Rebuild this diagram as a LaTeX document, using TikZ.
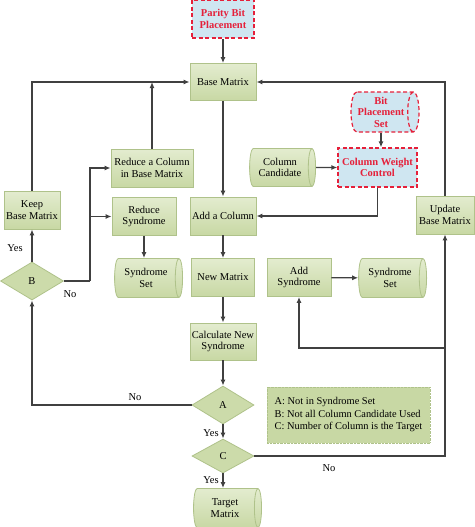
\documentclass[tikz,border=0pt]{standalone}
\usepackage{fontspec}
\setmainfont{Liberation Serif}
\usetikzlibrary{shapes.geometric,arrows.meta}
\definecolor{gtop}{HTML}{E3ECCF}
\definecolor{gbot}{HTML}{C8D8A4}
\definecolor{gedge}{HTML}{AFC28A}
\definecolor{bfill}{HTML}{CFE6F1}
\definecolor{rline}{HTML}{E5203A}
\definecolor{ln}{HTML}{404040}
\begin{document}
\begin{tikzpicture}[x=1pt,y=-1pt,
  font=\fontsize{10.5}{11.5}\selectfont,
  gbox/.style={draw=gedge, line width=0.8pt, top color=gtop, bottom color=gbot, align=center, inner sep=1pt, minimum width=64pt, minimum height=38pt},
  rbox/.style={draw=rline, dash pattern=on 4pt off 2.5pt, line width=1.2pt, fill=bfill, align=center, inner sep=1pt, text=rline, font=\fontsize{10.5}{11.5}\selectfont\bfseries},
  gcyl/.style={cylinder, draw=gedge, line width=0.8pt, top color=gtop, bottom color=gbot, align=center, inner sep=1pt, aspect=0.35, minimum width=39pt, minimum height=68pt},
  gdia/.style={diamond, draw=gedge, line width=0.8pt, fill=gbot!85!gtop, inner sep=0pt, minimum width=62pt, minimum height=38pt},
  conn/.style={draw=ln, line width=1.2pt, -{Latex[length=6pt,width=5pt]}},
  plain/.style={draw=ln, line width=1.2pt},
  lbl/.style={inner sep=1pt}
]
\useasboundingbox (0,0) rectangle (474,527);

% nodes
\node[rbox, minimum width=62pt, minimum height=38pt] (pb) at (223,19) {Parity Bit\\Placement};
\node[gbox, minimum width=66pt, minimum height=37pt] (bm) at (223,82) {Base Matrix};
\node[cylinder, rbox, aspect=0.35, minimum width=40pt, minimum height=68pt] (bps) at (381,112) {Bit\\Placement\\Set};
\node[rbox, minimum width=79pt, minimum height=39pt] (cwc) at (377.5,167.5) {Column Weight\\Control};
\node[gcyl, minimum width=38pt, minimum height=66pt] (cc) at (280,167.5) {Column\\Candidate};
\node[gbox, minimum width=82pt] (rc) at (152,168) {Reduce a Column\\in Base Matrix};
\node[gbox, minimum width=56pt] (kb) at (32,210) {Keep\\Base Matrix};
\node[gdia, minimum width=63pt] (B) at (32,281) {B};
\node[gbox, minimum width=64pt] (rs) at (144,216.5) {Reduce\\Syndrome};
\node[gcyl] (ss1) at (146,278) {Syndrome\\Set};
\node[gbox, minimum width=66pt] (ac) at (223,216) {Add a Column};
\node[gbox, minimum width=63pt] (nm) at (223,277.5) {New Matrix};
\node[gbox] (as) at (299,277.5) {Add\\Syndrome};
\node[gcyl] (ss2) at (390,278) {Syndrome\\Set};
\node[gbox, minimum width=58pt] (ub) at (445,215) {Update\\Base Matrix};
\node[gbox, minimum width=66pt, minimum height=37pt] (cn) at (223,341.5) {Calculate New\\Syndrome};
\node[gdia] (A) at (223,405) {A};
\node[gdia, minimum height=34pt] (C) at (223,456) {C};
\node[gcyl, minimum height=68pt] (tm) at (225,508) {Target\\Matrix};
\node[draw=gedge, densely dotted, fill=gbot, align=left, inner sep=3pt, minimum width=163pt, minimum height=56pt, font=\fontsize{10.4}{12.5}\selectfont] (leg) at (348.5,415)
  {A: Not in Syndrome Set\\B: Not all Column Candidate Used\\C: Number of Column is the Target};

% coordinates
\coordinate (bj) at (90,281);
\coordinate (cr) at (445,348);

% connectors
\draw[conn] (pb) -- (bm);
\draw[conn] (kb.north) |- (bm.west);
\draw[conn] (rc.north) -- (rc.north |- bm.west);
\draw[conn] (ub.north) |- (bm.east);
\draw[conn] (bps.south) -- (bps.south |- cwc.north);
\draw[conn] (cc) -- (cwc);
\draw[conn] (cwc.south) |- (ac.east);
\draw[conn] (bm) -- (ac);
\draw[conn] (ac) -- (nm);
\draw[conn] (nm) -- (cn);
\draw[conn] (cn) -- (A);
\draw[conn] (A) -- (C);
\draw[conn] (C.south) -- (C.south |- tm.north);
\draw[conn] (B) -- (kb);
\draw[plain] (B.east) -- (bj);
\draw[conn] (bj) |- (rc.west);
\draw[conn] (bj |- rs.west) -- (rs.west);
\draw[conn] (rs.south) -- (rs.south |- ss1.north);
\draw[conn] (as) -- (ss2);
\draw[conn] (A.west) -| (B.south);
\draw[conn] (C.east) -| (ub.south);
\draw[conn] (cr) -| (as.south);

% labels
\node[lbl] (ly1) at (15,248) {Yes};
\node[lbl] (ln1) at (70,294) {No};
\node[lbl] (ln2) at (135,397) {No};
\node[lbl] (ly2) at (211,433) {Yes};
\node[lbl] (ly3) at (211,480) {Yes};
\node[lbl] (ln3) at (329,468) {No};
\end{tikzpicture}
\end{document}
